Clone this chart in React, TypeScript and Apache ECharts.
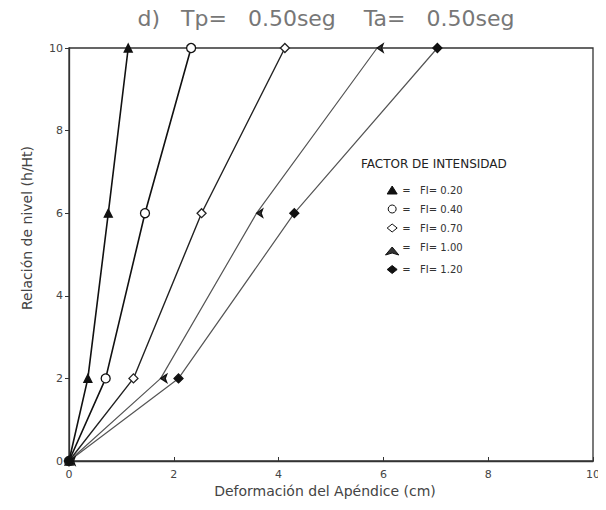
import React, { useEffect, useRef } from "react";
import * as echarts from "echarts";

// Deformation (cm) at levels h/Ht = 0, 2, 6, 10 for each intensity factor
const levels = [0, 2, 6, 10];
const fi020 = [0, 0.36, 0.75, 1.13];
const fi040 = [0, 0.70, 1.45, 2.33];
const fi070 = [0, 1.23, 2.53, 4.12];
const fi100 = [0, 1.75, 3.58, 5.88];
const fi120 = [0, 2.09, 4.30, 7.03];

const seriesNames = ["FI= 0.20", "FI= 0.40", "FI= 0.70", "FI= 1.00", "FI= 1.20"];
const xTicks = [0, 2, 4, 6, 8, 10];

const FONT = "'DejaVu Sans', 'Liberation Sans', sans-serif";

export default function App() {
  const ref = useRef<HTMLDivElement>(null);

  useEffect(() => {
    if (!ref.current) return;
    const chart = echarts.init(ref.current, undefined, { renderer: "svg" });

    const styles = [
      { data: fi020, symbol: "triangle", size: 8, color: "#111", fill: "#111", rotate: 0, width: 1.6 },
      { data: fi040, symbol: "circle", size: 9, color: "#111", fill: "#fff", rotate: 0, width: 1.6 },
      { data: fi070, symbol: "diamond", size: 9, color: "#222", fill: "#fff", rotate: 0, width: 1.4 },
      { data: fi100, symbol: "arrow", size: 6, color: "#555", fill: "#333", rotate: 90, width: 1.2 },
      { data: fi120, symbol: "diamond", size: 9, color: "#555", fill: "#111", rotate: 0, width: 1.2 },
    ];

    const series = styles.map((s, i) => ({
      name: seriesNames[i],
      type: "line",
      data: s.data.map((x, k) => [x, levels[k]]),
      symbol: s.symbol,
      symbolSize: s.size,
      symbolRotate: s.rotate,
      showAllSymbol: true,
      lineStyle: { color: s.color, width: s.width },
      itemStyle: { color: s.fill, borderColor: s.color === "#555" ? "#111" : s.color, borderWidth: 1.3 },
    }));

    chart.setOption({
      animation: false,
      backgroundColor: "#fff",
      textStyle: { fontFamily: FONT },
      title: {
        text: "d)   Tp=   0.50seg    Ta=   0.50seg",
        left: 321,
        textAlign: "center",
        top: 2,
        textStyle: { fontFamily: FONT, fontSize: 22, fontWeight: "normal", color: "#777" },
      },
      grid: {
        left: 69,
        right: 13,
        top: 48,
        bottom: 49,
        show: true,
        borderColor: "#333",
        borderWidth: 1.3,
      },
      legend: {
        orient: "vertical",
        left: 380,
        top: 180,
        itemGap: 9,
        itemWidth: 10,
        itemHeight: 8,
        data: seriesNames.map((n, i) => ({
          name: n,
          icon: styles[i].symbol,
          itemStyle: { color: styles[i].fill, borderColor: "#111", borderWidth: 1 },
        })),
        formatter: (n: string) => "=   " + n,
        textStyle: { fontFamily: FONT, fontSize: 10, color: "#333" },
        selectedMode: false,
      },
      xAxis: {
        type: "value",
        min: 0,
        max: 10,
        interval: 2,
        axisLine: { onZero: false, lineStyle: { color: "#333", width: 1.3 } },
        axisTick: { show: true, inside: true, length: 4, lineStyle: { color: "#333" } },
        axisLabel: {
          color: "#444",
          fontSize: 11,
          margin: 8,
          formatter: (v: number) => (xTicks.includes(v) ? String(v) : ""),
        },
        splitLine: { show: false },
      },
      yAxis: {
        type: "value",
        min: 0,
        max: 10,
        interval: 2,
        axisLine: { onZero: false, lineStyle: { color: "#333", width: 1.3 } },
        axisTick: { show: true, length: 4, lineStyle: { color: "#333" } },
        axisLabel: { color: "#444", fontSize: 11, margin: 6 },
        splitLine: { show: false },
      },
      graphic: [
        {
          type: "text",
          x: 361,
          y: 158,
          style: {
            text: "FACTOR DE INTENSIDAD",
            font: `12px ${FONT}`,
            fill: "#222",
          },
        },
        {
          type: "text",
          x: 27,
          y: 228,
          rotation: Math.PI / 2,
          style: {
            text: "Relación de nivel (h/Ht)",
            font: `14px ${FONT}`,
            fill: "#444",
            align: "center",
            verticalAlign: "middle",
          },
        },
        {
          type: "text",
          x: 325,
          y: 491,
          style: {
            text: "Deformación del Apéndice (cm)",
            font: `14px ${FONT}`,
            fill: "#444",
            align: "center",
            verticalAlign: "middle",
          },
        },
      ],
      series,
    });

    return () => chart.dispose();
  }, []);

  return <div ref={ref} style={{ width: 606, height: 510, margin: -8 }} />;
}
